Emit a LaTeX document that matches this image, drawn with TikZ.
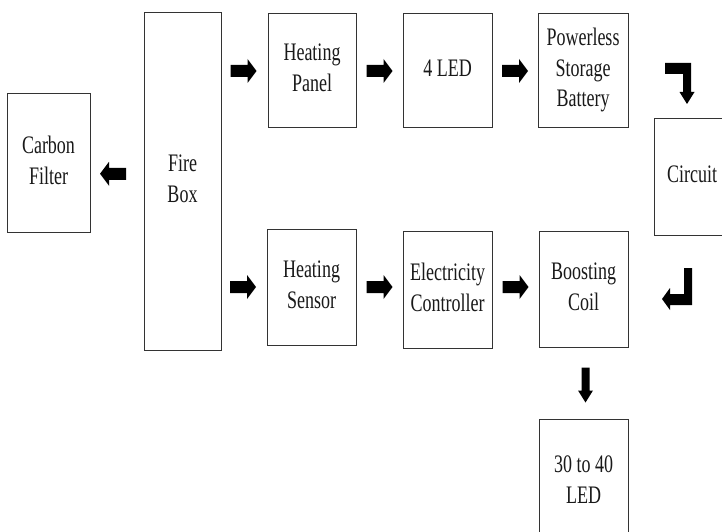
\documentclass[tikz,border=0pt]{standalone}
\usepackage{fontspec}
\usepackage{graphicx}
\setmainfont{Liberation Serif}
\usetikzlibrary{calc}
\newcommand{\lbl}[1]{\scalebox{1}[1.4]{\begin{tabular}{@{}c@{}}#1\end{tabular}}}
\tikzset{
  blk/.style={draw=black!80, line width=0.9pt, fill=white, inner sep=0pt,
    font=\fontsize{18}{22}\selectfont, text=black!90},
  rarr/.pic={\fill[black] (-13,-6) -- (4,-6) -- (4,-12) -- (13,0) -- (4,12) -- (4,6) -- (-13,6) -- cycle;},
  darr/.pic={\fill[black] (-4,-17.5) -- (4,-17.5) -- (4,5.5) -- (7.5,5.5) -- (0,17.5) -- (-7.5,5.5) -- (-4,5.5) -- cycle;}
}
\begin{document}
\begin{tikzpicture}[x=1pt,y=-1pt]
\useasboundingbox (0,0) rectangle (722,532);
\clip (0,0) rectangle (722,532);
\fill[white] (0,0) rectangle (722,532);
\node[blk, minimum width=83, minimum height=139] (carbon) at (48.5,162.5) {\lbl{Carbon\\Filter}};
\node[blk, minimum width=77, minimum height=338] (fire) at (182.5,181) {\lbl{Fire\\Box}};
\node[blk, minimum width=88, minimum height=114] (hpanel) at (312,70) {\lbl{Heating\\Panel}};
\node[blk, minimum width=89, minimum height=114] (led4) at (447.5,70) {\lbl{4 LED}};
\node[blk, minimum width=90, minimum height=114] (battery) at (583,70) {\lbl{Powerless\\Storage\\Battery}};
\node[blk, minimum width=76, minimum height=117] (circuit) at (692,176.5) {\lbl{Circuit}};
\node[blk, minimum width=89, minimum height=116] (hsensor) at (311.5,287) {\lbl{Heating\\Sensor}};
\node[blk, minimum width=89, minimum height=117] (ctrl) at (447.5,289.5) {\lbl{Electricity\\Controller}};
\node[blk, minimum width=89, minimum height=116] (coil) at (583.5,289) {\lbl{Boosting\\Coil}};
\node[blk, minimum width=89, minimum height=126] (led40) at (583.5,482) {\lbl{30 to 40\\LED}};
% straight block arrows
\pic[xscale=-1] at ($(carbon.east)!0.5!(fire.west)+(-4,2)$) {rarr};
\pic at ($(fire.east |- hpanel.center)!0.5!(hpanel.west)+(-1,1)$) {rarr};
\pic at ($(hpanel.east)!0.5!(led4.west)+(0,1)$) {rarr};
\pic at ($(led4.east)!0.5!(battery.west)+(0,1)$) {rarr};
\pic at ($(fire.east |- hsensor.center)!0.5!(hsensor.west)+(-1,0)$) {rarr};
\pic at ($(hsensor.east)!0.5!(ctrl.west |- hsensor.center)$) {rarr};
\pic at ($(ctrl.east |- hsensor.center)!0.5!(coil.west |- hsensor.center)$) {rarr};
\pic at ($(coil.south)!0.5!(led40.north)+(2,2)$) {darr};
% bent arrows
\fill[black] (665,63) -- (691,63) -- (691,92) -- (694.5,92) -- (687,104) -- (679.5,92) -- (683,92) -- (683,74) -- (665,74) -- cycle;
\fill[black] (692,268) -- (692,305) -- (670,305) -- (670,310) -- (662,299) -- (670,288) -- (670,294) -- (684,294) -- (684,268) -- cycle;
\end{tikzpicture}
\end{document}
